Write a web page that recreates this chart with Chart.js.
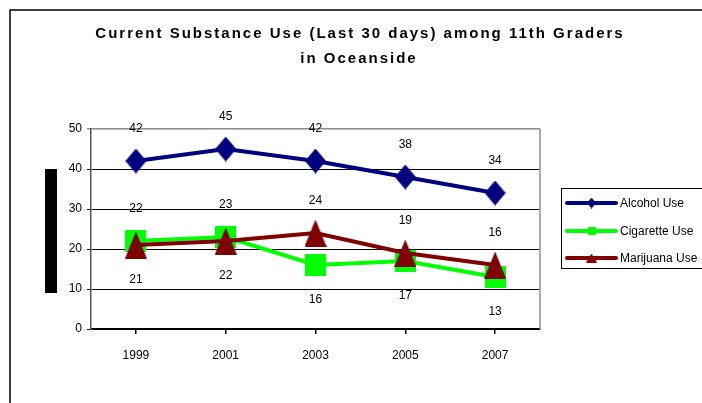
<!DOCTYPE html>
<html>
<head>
<meta charset="utf-8">
<script src="https://cdn.jsdelivr.net/npm/chart.js@4.4.1/dist/chart.umd.min.js"></script>
<style>
  html, body { margin: 0; padding: 0; background: #fff; }
</style>
</head>
<body>
<canvas id="myChart" width="702" height="403"></canvas>
<script>
(() => {
  'use strict'

  // Data
  const years = ['1999', '2001', '2003', '2005', '2007']
  const alcohol = [42, 45, 42, 38, 34]
  const cigarette = [22, 23, 16, 17, 13]
  const marijuana = [21, 22, 24, 19, 16]
  const seriesNames = ['Alcohol Use', 'Cigarette Use', 'Marijuana Use']
  const titleLines = ['Current Substance Use (Last 30 days) among 11th Graders', 'in Oceanside']

  const FONT = '"Liberation Sans", Arial, sans-serif'
  const NAVY = '#000080'
  const LIME = '#00ff00'
  const MAROON = '#800000'

  // small canvases used as point markers
  function marker (shape, w, h, color) {
    const c = document.createElement('canvas')
    c.width = w
    c.height = h
    const g = c.getContext('2d')
    g.fillStyle = color
    g.beginPath()
    if (shape === 'diamond') {
      g.moveTo(w / 2, 0); g.lineTo(w, h / 2); g.lineTo(w / 2, h); g.lineTo(0, h / 2)
    } else if (shape === 'square') {
      g.rect(0, 0, w, h)
    } else {
      g.moveTo(w / 2, 0); g.lineTo(w, h); g.lineTo(0, h)
    }
    g.closePath()
    g.fill()
    return c
  }

  const bigMarks = [
    marker('diamond', 21, 25, NAVY),
    marker('square', 21, 22, LIME),
    marker('triangle', 22, 27, MAROON)
  ]
  const smallMarks = [
    marker('diamond', 9, 11, NAVY),
    marker('square', 8, 8, LIME),
    marker('triangle', 11, 9, MAROON)
  ]

  // frame, black bar, title, plot right edge
  const decor = {
    id: 'decor',
    beforeDraw (chart) {
      const ctx = chart.ctx
      ctx.save()
      ctx.strokeStyle = '#000'
      ctx.lineWidth = 1.5
      ctx.beginPath()
      ctx.moveTo(10, 403)
      ctx.lineTo(10, 10)
      ctx.lineTo(702, 10)
      ctx.stroke()
      ctx.fillStyle = '#000'
      ctx.fillRect(45, 169, 12, 124)
      ctx.font = 'bold 15px ' + FONT
      ctx.letterSpacing = '2px'
      ctx.textAlign = 'center'
      ctx.textBaseline = 'alphabetic'
      ctx.fillText(titleLines[0], 360, 38)
      ctx.fillText(titleLines[1], 359, 63)
      ctx.restore()
    },
    afterDraw (chart) {
      const { ctx, chartArea } = chart
      ctx.save()
      ctx.strokeStyle = '#8c8c8c'
      ctx.lineWidth = 1.5
      ctx.beginPath()
      ctx.moveTo(chartArea.right, chartArea.top)
      ctx.lineTo(chartArea.right, chartArea.bottom)
      ctx.stroke()
      ctx.restore()
    }
  }

  // value labels: above the point, or below when the series is lowest that year
  const valueLabels = {
    id: 'valueLabels',
    afterDatasetsDraw (chart) {
      const ctx = chart.ctx
      const sets = chart.data.datasets
      ctx.save()
      ctx.font = '12px ' + FONT
      ctx.fillStyle = '#000'
      ctx.textAlign = 'center'
      ctx.textBaseline = 'middle'
      sets.forEach((ds, i) => {
        chart.getDatasetMeta(i).data.forEach((pt, j) => {
          const v = ds.data[j]
          const lowest = sets.every((o, k) => k === i || o.data[j] > v)
          ctx.fillText(String(v), pt.x, pt.y + (lowest ? 35 : -32))
        })
      })
      ctx.restore()
    }
  }

  // legend box with line + marker samples
  const sideLegend = {
    id: 'sideLegend',
    afterDraw (chart) {
      const ctx = chart.ctx
      const sets = chart.data.datasets
      ctx.save()
      ctx.strokeStyle = '#000'
      ctx.lineWidth = 1
      ctx.strokeRect(561.5, 188.5, 150, 80)
      ctx.font = '12px ' + FONT
      ctx.textBaseline = 'middle'
      ctx.textAlign = 'left'
      const rows = [203, 231, 258]
      sets.forEach((ds, i) => {
        const y = rows[i]
        ctx.strokeStyle = ds.borderColor
        ctx.lineWidth = 4
        ctx.lineCap = 'round'
        ctx.beginPath()
        ctx.moveTo(567, y)
        ctx.lineTo(616, y)
        ctx.stroke()
        const m = smallMarks[i]
        ctx.drawImage(m, 591.5 - m.width / 2, y - m.height / 2)
        ctx.fillStyle = '#000'
        ctx.fillText(ds.label, 620, y + 1)
      })
      ctx.restore()
    }
  }

  const ctx = document.getElementById('myChart')
  // eslint-disable-next-line no-unused-vars
  const myChart = new Chart(ctx, {
    type: 'line',
    data: {
      labels: years,
      datasets: [
        { label: seriesNames[0], data: alcohol, borderColor: NAVY, pointStyle: bigMarks[0], order: 0 },
        { label: seriesNames[1], data: cigarette, borderColor: LIME, pointStyle: bigMarks[1], order: 2 },
        { label: seriesNames[2], data: marijuana, borderColor: MAROON, pointStyle: bigMarks[2], order: 1 }
      ].map(d => Object.assign(d, {
        borderWidth: 4,
        tension: 0,
        fill: false,
        pointRadius: 10,
        pointHoverRadius: 10,
        backgroundColor: d.borderColor
      }))
    },
    options: {
      responsive: false,
      animation: false,
      events: [],
      layout: { padding: { left: 0, right: 162, top: 129, bottom: 34 } },
      plugins: {
        legend: { display: false },
        title: { display: false },
        tooltip: { enabled: false }
      },
      scales: {
        x: {
          offset: true,
          afterFit: scale => { scale.height = 40 },
          grid: { drawOnChartArea: false, color: '#000', tickLength: 5, lineWidth: 1.5 },
          border: { color: '#000', width: 1.5 },
          ticks: { color: '#000', padding: 14, font: { family: FONT, size: 12 } }
        },
        y: {
          min: 0,
          max: 50,
          afterFit: scale => { scale.width = 91 },
          grid: {
            color: c => (c.tick.value === 50 ? '#8c8c8c' : '#000'),
            lineWidth: c => (c.tick.value === 50 ? 1.5 : 1),
            tickLength: 4
          },
          border: { color: '#555', width: 1.5 },
          ticks: { stepSize: 10, color: '#000', padding: 5, font: { family: FONT, size: 12 } }
        }
      }
    },
    plugins: [decor, valueLabels, sideLegend]
  })
})()
</script>
</body>
</html>
